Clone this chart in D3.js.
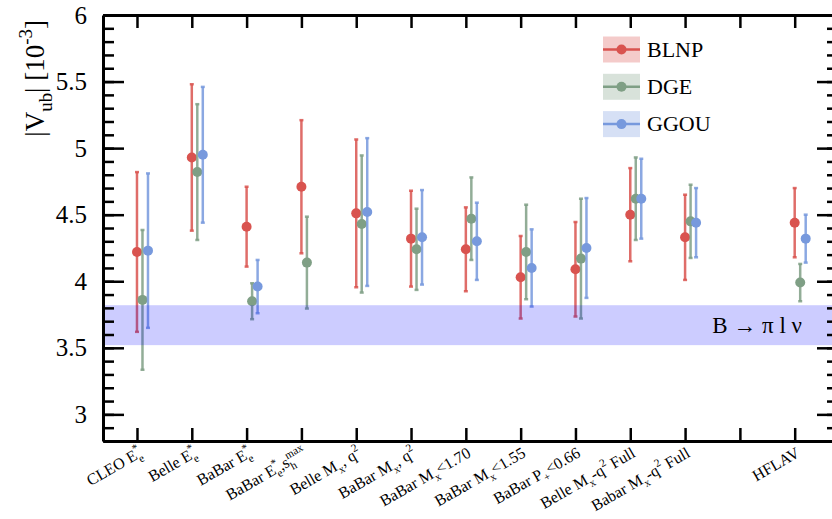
<!DOCTYPE html>
<html>
<head>
<meta charset="utf-8">
<script src="https://cdn.jsdelivr.net/npm/d3@7"></script>
<style>
  body { margin: 0; background: #fff; }
  svg { display: block; font-family: "Liberation Serif", "Times New Roman", serif; }
</style>
</head>
<body>
<div id="chart"></div>
<script>
// data
const categories = [
  "CLEO E_{e}^{*}",
  "Belle  E_{e}^{*}",
  "BaBar E_{e}^{*}",
  "BaBar E_{e}^{*},s_{h}^{max}",
  "Belle M_{x}, q^{2}",
  "BaBar M_{x}, q^{2}",
  "BaBar M_{x}<1.70",
  "BaBar M_{x}<1.55",
  "BaBar P_{+}<0.66",
  "Belle M_{x}-q^{2} Full",
  "Babar M_{x}-q^{2} Full",
  "",
  "HFLAV",
];
const blnp = [4.22, 4.93, 4.41, 4.71, 4.51, 4.32, 4.24, 4.03, 4.09, 4.50, 4.33, null, 4.44];
const blnpErr = [0.60, 0.55, 0.30, 0.50, 0.555, 0.36, 0.315, 0.31, 0.355, 0.35, 0.32, null, 0.26];
const dge = [3.86, 4.82, 3.85, 4.14, 4.43, 4.24, 4.47, 4.22, 4.17, 4.62, 4.45, null, 3.99];
const dgeErr = [0.525, 0.51, 0.135, 0.345, 0.515, 0.305, 0.31, 0.355, 0.45, 0.31, 0.275, null, 0.14];
const ggou = [4.23, 4.95, 3.96, null, 4.52, 4.33, 4.30, 4.10, 4.25, 4.62, 4.44, null, 4.32];
const ggouErr = [0.58, 0.51, 0.20, null, 0.555, 0.355, 0.29, 0.29, 0.375, 0.30, 0.26, null, 0.18];
const seriesNames = ["BLNP", "DGE", "GGOU"];
const bandRange = [3.52, 3.82];
const bandLabel = "B \u2192 \u03c0 l \u03bd";
const yTicks = [3, 3.5, 4, 4.5, 5, 5.5, 6];

// layout
const width = 832, height = 519;
const mLeft = 103, mRight = 838, mTop = 15, mBottom = 441;
const colors = ["rgb(217,83,79)", "rgb(127,159,133)", "rgb(119,153,221)"];
const offsets = [0, 5.5, 11];

const svg = d3.select("#chart").append("svg").attr("width", width).attr("height", height);

const x = d3.scaleLinear().domain([-0.62, 12.79]).range([mLeft, mRight]);
const y = d3.scaleLinear().domain([2.8, 6]).range([mBottom, mTop]);

// sub/superscript text like ROOT's  E_{e}^{*}
const richText = (sel, str, size) => {
  const re = /([_^])\{([^}]*)\}|([^_^]+)/g;
  let m, shift = 0, prev = null, prevLen = 0;
  while ((m = re.exec(str))) {
    if (m[3]) {
      const t = sel.append("tspan").attr("font-size", size).text(m[3]);
      if (shift) t.attr("dy", -shift);
      shift = 0; prev = null;
    } else {
      const target = m[1] === "_" ? size * 0.3 : -size * 0.45;
      const t = sel.append("tspan").attr("font-size", size * 0.7).attr("dy", target - shift).text(m[2]);
      if (prev) t.attr("dx", -prevLen);
      shift = target; prev = m[1]; prevLen = m[2].length * size * 0.7 * 0.48;
    }
  }
};

const series = [
  { v: blnp, e: blnpErr },
  { v: dge, e: dgeErr },
  { v: ggou, e: ggouErr },
];

series.forEach((s, k) => {
  const idx = d3.range(categories.length).filter((i) => s.v[i] != null);
  const g = svg.append("g");
  const px = (i) => x(i) + offsets[k];

  g.selectAll(null).data(idx).enter().append("line")
    .attr("x1", px).attr("x2", px)
    .attr("y1", (i) => y(s.v[i] + s.e[i]))
    .attr("y2", (i) => y(s.v[i] - s.e[i]))
    .attr("stroke", colors[k]).attr("stroke-width", 2.5).attr("stroke-opacity", 0.85);

  [1, -1].forEach((sign) => {
    const end = (i) => y(s.v[i] + sign * s.e[i]);
    g.selectAll(null).data(idx).enter().append("line")
      .attr("x1", (i) => px(i) - 2).attr("x2", (i) => px(i) + 2)
      .attr("y1", end).attr("y2", end)
      .attr("stroke", colors[k]).attr("stroke-width", 2.5).attr("stroke-opacity", 0.85);
  });

  g.selectAll(null).data(idx).enter().append("circle")
    .attr("cx", px).attr("cy", (i) => y(s.v[i]))
    .attr("r", 5).attr("fill", colors[k]);
});

// band, over the points
svg.append("rect")
  .attr("x", mLeft).attr("width", mRight - mLeft)
  .attr("y", y(bandRange[1])).attr("height", y(bandRange[0]) - y(bandRange[1]))
  .attr("fill", "rgb(0,0,255)").attr("fill-opacity", 0.2);

svg.append("text")
  .attr("x", 802).attr("y", (y(bandRange[0]) + y(bandRange[1])) / 2 + 8)
  .attr("text-anchor", "end").attr("font-size", 23)
  .text(bandLabel);

// legend
const legend = svg.append("g").selectAll("g").data(seriesNames).enter().append("g")
  .attr("transform", (d, i) => `translate(603, ${49.5 + i * 37.3})`);
legend.append("rect").attr("x", 0).attr("y", -13).attr("width", 37).attr("height", 26)
  .attr("fill", (d, i) => colors[i]).attr("fill-opacity", 0.3);
legend.append("line").attr("x1", 0).attr("x2", 37)
  .attr("stroke", (d, i) => colors[i]).attr("stroke-width", 2.5);
legend.append("circle").attr("cx", 18.5).attr("r", 5).attr("fill", (d, i) => colors[i]);
legend.append("text").attr("x", 44).attr("y", 7).attr("font-size", 22).text((d) => d);

// axes
const styleAxis = (g) => {
  g.select(".domain").attr("stroke-width", 3);
  g.selectAll(".tick line").attr("stroke-width", 2.5);
};
const minor = d3.range(28, 61).map((d) => d / 10);

svg.append("g").attr("transform", `translate(${mLeft},0)`)
  .call(d3.axisLeft(y).tickValues(minor).tickSizeInner(-11).tickSizeOuter(0).tickFormat(""))
  .call(styleAxis);
svg.append("g").attr("transform", `translate(${mLeft},0)`)
  .call(d3.axisLeft(y).tickValues(yTicks).tickSizeInner(-21).tickSizeOuter(0).tickPadding(16).tickFormat(d3.format("")))
  .call(styleAxis)
  .call((g) => g.select(".domain").remove())
  .selectAll("text").attr("font-size", 25).attr("font-family", "Liberation Serif").attr("fill", "#000");

svg.append("g").attr("transform", `translate(${mRight},0)`)
  .call(d3.axisRight(y).tickValues(minor).tickSizeInner(-11).tickSizeOuter(0).tickFormat(""))
  .call(styleAxis);
svg.append("g").attr("transform", `translate(${mRight},0)`)
  .call(d3.axisRight(y).tickValues(yTicks).tickSizeInner(-21).tickSizeOuter(0).tickFormat(""))
  .call(styleAxis);

const xTicks = d3.range(categories.length);
svg.append("g").attr("transform", `translate(0,${mBottom})`)
  .call(d3.axisBottom(x).tickValues(xTicks).tickSizeInner(-13).tickSizeOuter(0).tickFormat(""))
  .call(styleAxis);
svg.append("g").attr("transform", `translate(0,${mTop})`)
  .call(d3.axisTop(x).tickValues(xTicks).tickSizeInner(-13).tickSizeOuter(0).tickFormat(""))
  .call(styleAxis);

// rotated category labels
svg.append("g").selectAll("text").data(categories).enter().append("text")
  .attr("transform", (d, i) => `translate(${x(i) + 6},${mBottom + 15}) rotate(-30)`)
  .attr("text-anchor", "end")
  .each(function (d) { richText(d3.select(this), d, 16); });

// y title
const yTitle = svg.append("text")
  .attr("transform", "translate(44,20) rotate(-90)")
  .attr("text-anchor", "end");
richText(yTitle, "|V_{ub}| [10^{-3}]", 27);
</script>
</body>
</html>
